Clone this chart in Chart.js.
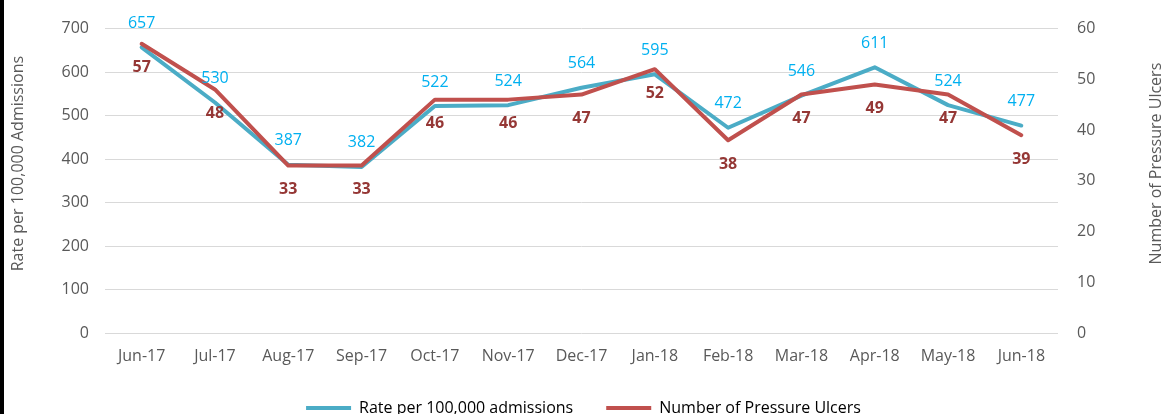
<!DOCTYPE html>
<html>
<head>
<meta charset="utf-8">
<script src="https://cdn.jsdelivr.net/npm/chart.js@4.4.1/dist/chart.umd.min.js"></script>
<style>
  html, body { margin: 0; padding: 0; background: #ffffff; }
  #frame {
    width: 1159px; height: 414px; overflow: hidden;
    border-left: 4px solid #000000; background: #ffffff;
  }
  #box { position: relative; width: 1159px; height: 426px; }
</style>
</head>
<body>
<div id="frame"><div id="box"><canvas id="chart"></canvas></div></div>
<script>
// Monthly pressure ulcer figures
const months = ['Jun-17', 'Jul-17', 'Aug-17', 'Sep-17', 'Oct-17', 'Nov-17', 'Dec-17',
                'Jan-18', 'Feb-18', 'Mar-18', 'Apr-18', 'May-18', 'Jun-18'];
const ratePer100k = [657, 530, 387, 382, 522, 524, 564, 595, 472, 546, 611, 524, 477];
const ulcerCount = [57, 48, 33, 33, 46, 46, 47, 52, 38, 47, 49, 47, 39];

const rateTicks = [0, 100, 200, 300, 400, 500, 600, 700];
const countTicks = [0, 10, 20, 30, 40, 50, 60];

const leftTitle = 'Rate per 100,000 Admissions';
const rightTitle = 'Number of Pressure Ulcers';

const FONT = "'Open Sans', 'DejaVu Sans', sans-serif";
const GREY = '#595959';

// Value labels: rate above its point, count below its point
const valueLabels = {
  id: 'valueLabels',
  afterDatasetsDraw(chart) {
    const ctx = chart.ctx;
    ctx.save();
    ctx.textAlign = 'center';
    ctx.textBaseline = 'middle';
    chart.data.datasets.forEach((ds, i) => {
      const meta = chart.getDatasetMeta(i);
      const cfg = ds.labelStyle;
      ctx.fillStyle = cfg.color;
      ctx.font = cfg.weight + ' 16px ' + FONT;
      meta.data.forEach((pt, j) => {
        ctx.fillText(String(ds.data[j]), pt.x, pt.y + cfg.offset);
      });
    });
    ctx.restore();
  }
};

// Rotated axis titles at both sides of the plot
const sideTitles = {
  id: 'sideTitles',
  afterDraw(chart) {
    const ctx = chart.ctx;
    const area = chart.chartArea;
    const cy = area.top + 135;
    ctx.save();
    ctx.fillStyle = GREY;
    ctx.font = '16px ' + FONT;
    ctx.textAlign = 'center';
    ctx.textBaseline = 'middle';
    [[area.left - 87, leftTitle], [area.right + 98, rightTitle]].forEach(([x, t]) => {
      ctx.save();
      ctx.translate(x, cy);
      ctx.rotate(-Math.PI / 2);
      ctx.fillText(t, 0, 0);
      ctx.restore();
    });
    ctx.restore();
  }
};

new Chart(document.getElementById('chart'), {
  type: 'line',
  data: {
    labels: months,
    datasets: [
      {
        label: 'Rate per 100,000 admissions',
        data: ratePer100k,
        yAxisID: 'yRate',
        borderColor: '#4BACC6',
        backgroundColor: '#4BACC6',
        borderWidth: 4,
        pointRadius: 0,
        tension: 0,
        borderJoinStyle: 'round',
        borderCapStyle: 'round',
        order: 1,
        labelStyle: { color: '#00B0F0', weight: 'normal', offset: -24 }
      },
      {
        label: 'Number of Pressure Ulcers',
        data: ulcerCount,
        yAxisID: 'yCount',
        borderColor: '#C0504D',
        backgroundColor: '#C0504D',
        borderWidth: 4,
        pointRadius: 0,
        tension: 0,
        borderJoinStyle: 'round',
        borderCapStyle: 'round',
        order: 0,
        labelStyle: { color: '#953735', weight: 'bold', offset: 24 }
      }
    ]
  },
  options: {
    responsive: true,
    maintainAspectRatio: false,
    animation: false,
    devicePixelRatio: 1,
    layout: { padding: { top: 25, left: 0, right: 0, bottom: 0 } },
    plugins: {
      tooltip: { enabled: false },
      legend: {
        position: 'bottom',
        labels: {
          color: GREY,
          font: { family: FONT, size: 16 },
          boxWidth: 45,
          boxHeight: 4,
          padding: 33,
          sort: (a, b) => a.datasetIndex - b.datasetIndex,
          generateLabels(chart) {
            return chart.data.datasets.map((ds, i) => ({
              text: ds.label,
              fillStyle: ds.borderColor,
              strokeStyle: ds.borderColor,
              lineWidth: 0,
              datasetIndex: i,
              hidden: false
            }));
          }
        }
      }
    },
    scales: {
      x: {
        offset: true,
        grid: { display: false, drawTicks: false },
        border: { display: false },
        ticks: {
          color: GREY,
          font: { family: FONT, size: 16 },
          padding: 14,
          maxRotation: 0,
          autoSkip: false
        },
        afterFit(scale) { scale.height = 34; }
      },
      yRate: {
        position: 'left',
        min: 0,
        max: 700,
        afterBuildTicks(scale) { scale.ticks = rateTicks.map(v => ({ value: v })); },
        grid: { color: '#D9D9D9', lineWidth: 1, drawTicks: false },
        border: { display: false },
        ticks: {
          color: GREY,
          font: { family: FONT, size: 16 },
          padding: 16
        },
        afterFit(scale) { scale.width = 101; }
      },
      yCount: {
        position: 'right',
        min: 0,
        max: 60,
        afterBuildTicks(scale) { scale.ticks = countTicks.map(v => ({ value: v })); },
        grid: { display: false, drawTicks: false },
        border: { display: false },
        ticks: {
          color: GREY,
          font: { family: FONT, size: 16 },
          padding: 19
        },
        afterFit(scale) { scale.width = 105; }
      }
    }
  },
  plugins: [valueLabels, sideTitles]
});
</script>
</body>
</html>
